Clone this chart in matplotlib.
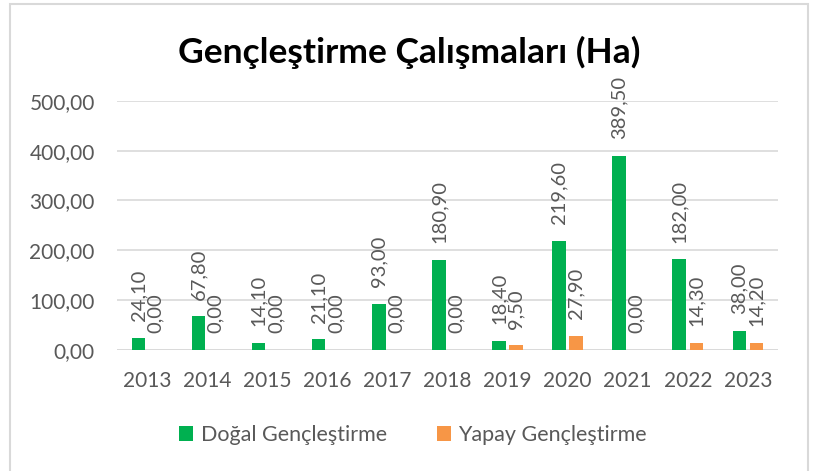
import matplotlib.pyplot as plt
import numpy as np
from matplotlib.patches import Rectangle

plt.rcParams['font.family'] = ['Lato', 'DejaVu Sans']

years = ['2013', '2014', '2015', '2016', '2017', '2018', '2019', '2020', '2021', '2022', '2023']
dogal = [24.10, 67.80, 14.10, 21.10, 93.00, 180.90, 18.40, 219.60, 389.50, 182.00, 38.00]
yapay = [0.00, 0.00, 0.00, 0.00, 0.00, 0.00, 9.50, 27.90, 0.00, 14.30, 14.20]

green = '#00B050'
orange = '#F79646'
txt = '#595959'

def fmt(v):
    return f'{v:.2f}'.replace('.', ',')

fig = plt.figure(figsize=(8.18, 4.71), dpi=100)
# chart frame (bottom edge runs off the image)
fig.patches.append(Rectangle((0.0122, -0.02), 0.9756, 1.0115, transform=fig.transFigure,
                             fill=False, edgecolor='#D9D9D9', lw=1.5))
ax = fig.add_axes([0.143, 0.257, 0.808, 0.529])

x = np.arange(len(years))
w = 0.225
off = 0.143
b1 = ax.bar(x - off, dogal, w, color=green, zorder=3)
b2 = ax.bar(x + off, yapay, w, color=orange, zorder=3)

for xs, vals in ((x - off, dogal), (x + off, yapay)):
    for xi, v in zip(xs, vals):
        ax.annotate(fmt(v), (xi, v), xytext=(0, 12), textcoords='offset points',
                    rotation=90, ha='center', va='bottom', fontsize=14.5, color=txt,
                    annotation_clip=False)

ax.set_ylim(0, 500)
ax.set_xlim(-0.5, len(years) - 0.5)
ax.set_yticks(np.arange(0, 501, 100))
ax.set_yticklabels([fmt(v) for v in np.arange(0, 501, 100)])
ax.set_xticks(x)
ax.set_xticklabels(years)
ax.tick_params(axis='both', length=0, labelsize=15, colors=txt)
ax.tick_params(axis='x', pad=15)
ax.tick_params(axis='y', pad=16)
ax.grid(axis='y', color='#D9D9D9', lw=1.2, zorder=0)
for s in ax.spines.values():
    s.set_visible(False)
ax.axhline(0, color='#D9D9D9', lw=1.2, zorder=2)

fig.text(0.5, 0.889, 'Gençleştirme Çalışmaları (Ha)', ha='center', va='center',
         fontsize=25.5, fontweight='bold', color='black')

fig.legend([b1, b2], ['Doğal Gençleştirme', 'Yapay Gençleştirme'],
           loc='center', bbox_to_anchor=(0.505, 0.076), ncol=2, frameon=False,
           fontsize=15.5, labelcolor=txt, handlelength=0.65, handleheight=0.65,
           handletextpad=0.35, columnspacing=2.3)

fig.savefig('out.png', dpi=100)
